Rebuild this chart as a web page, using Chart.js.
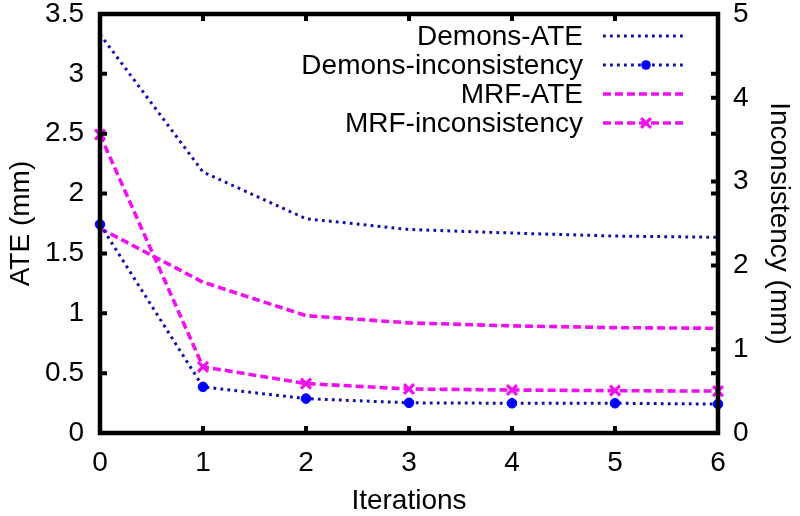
<!DOCTYPE html>
<html>
<head>
<meta charset="utf-8">
<script src="https://cdn.jsdelivr.net/npm/chart.js@4.4.0/dist/chart.umd.min.js"></script>
<style>
html,body{margin:0;padding:0;background:#fff;overflow:hidden;}
#c{display:block;width:800px;height:516px;}
</style>
</head>
<body>
<canvas id="c" width="800" height="516" style="width:800px;height:516px;"></canvas>
<script>
const iterations = ['0','1','2','3','4','5','6'];
const demonsATE = [3.33, 2.18, 1.79, 1.70, 1.67, 1.645, 1.635];
const demonsInconsistency = [2.49, 0.55, 0.41, 0.36, 0.355, 0.355, 0.345];
const mrfATE = [1.71, 1.26, 0.98, 0.92, 0.895, 0.88, 0.875];
const mrfInconsistency = [3.56, 0.79, 0.59, 0.525, 0.513, 0.505, 0.50];
const seriesNames = ['Demons-ATE','Demons-inconsistency','MRF-ATE','MRF-inconsistency'];
const ateTicks = [0,0.5,1,1.5,2,2.5,3,3.5];
const incTicks = [0,1,2,3,4,5];

const FONT = '"Liberation Sans", Arial, Helvetica, sans-serif';
const FS = 28;
const BLUE_DARK = '#1010a8';
const BLUE = '#0000ff';
const MAG = '#f010f0';

const frame = {
  id:'frame',
  afterDatasetsDraw(chart){
    const {ctx, chartArea:a, scales} = chart;
    ctx.save();
    ctx.strokeStyle = '#000';
    ctx.lineWidth = 4;
    const tl = 7;
    ctx.beginPath();
    scales.x.ticks.forEach((t,i)=>{
      if(i===0 || i===scales.x.ticks.length-1) return;
      const px = scales.x.getPixelForTick(i);
      ctx.moveTo(px,a.bottom); ctx.lineTo(px,a.bottom-tl);
      ctx.moveTo(px,a.top); ctx.lineTo(px,a.top+tl);
    });
    ateTicks.forEach(v=>{
      if(v===0||v===3.5) return;
      const py = scales.y.getPixelForValue(v);
      ctx.moveTo(a.left,py); ctx.lineTo(a.left+tl,py);
      ctx.moveTo(a.right,py); ctx.lineTo(a.right-tl,py);
    });
    incTicks.forEach(v=>{
      if(v===0||v===5) return;
      const py = scales.y2.getPixelForValue(v);
      ctx.moveTo(a.right,py); ctx.lineTo(a.right-tl,py);
    });
    ctx.stroke();
    ctx.lineWidth = 4.5;
    ctx.strokeRect(a.left,a.top,a.right-a.left,a.bottom-a.top);
    ctx.restore();
  }
};

const legendPlugin = {
  id:'customLegend',
  afterDatasetsDraw(chart){
    const {ctx} = chart;
    const textRight = 583, x1 = 603, x2 = 683;
    const rows = [36, 65, 94, 123];
    ctx.save();
    ctx.font = FS + 'px ' + FONT;
    ctx.textAlign = 'right';
    ctx.textBaseline = 'middle';
    chart.data.datasets.forEach((ds,i)=>{
      const y = rows[i];
      ctx.fillStyle = '#000';
      ctx.fillText(ds.label, textRight, y+1);
      ctx.strokeStyle = ds.borderColor;
      ctx.lineWidth = ds.borderWidth;
      ctx.setLineDash(ds.borderDash);
      ctx.beginPath(); ctx.moveTo(x1,y); ctx.lineTo(x2,y); ctx.stroke();
      ctx.setLineDash([]);
      if(ds.pointRadius>0){
        const cx = (x1+x2)/2 + 3;
        const r = ds.pointRadius;
        if(ds.pointStyle==='crossRot'){
          ctx.strokeStyle = ds.pointBorderColor; ctx.lineWidth = ds.pointBorderWidth;
          ctx.beginPath();
          ctx.moveTo(cx-r*0.7,y-r*0.7); ctx.lineTo(cx+r*0.7,y+r*0.7);
          ctx.moveTo(cx+r*0.7,y-r*0.7); ctx.lineTo(cx-r*0.7,y+r*0.7);
          ctx.stroke();
        } else {
          ctx.fillStyle = ds.pointBackgroundColor;
          ctx.beginPath(); ctx.arc(cx,y,r,0,Math.PI*2); ctx.fill();
        }
      }
    });
    ctx.restore();
  }
};

function noVPad(s){ s.paddingTop = 0; s.paddingBottom = 0; }

new Chart(document.getElementById('c'), {
  type:'line',
  data:{
    labels: iterations,
    datasets:[
      {label:seriesNames[0], data:demonsATE, yAxisID:'y', borderColor:BLUE_DARK, borderWidth:3, borderDash:[2.8,4.2], pointRadius:0, fill:false, tension:0},
      {label:seriesNames[1], data:demonsInconsistency, yAxisID:'y2', borderColor:BLUE_DARK, borderWidth:3, borderDash:[2.8,4.2], pointRadius:4.8, pointStyle:'circle', pointBackgroundColor:BLUE, pointBorderColor:BLUE, pointBorderWidth:1, fill:false, tension:0},
      {label:seriesNames[2], data:mrfATE, yAxisID:'y', borderColor:MAG, borderWidth:3.6, borderDash:[8,4], pointRadius:0, fill:false, tension:0},
      {label:seriesNames[3], data:mrfInconsistency, yAxisID:'y2', borderColor:MAG, borderWidth:3.6, borderDash:[8,4], pointRadius:7, pointStyle:'crossRot', pointBorderColor:MAG, pointBackgroundColor:MAG, pointBorderWidth:3.2, fill:false, tension:0}
    ]
  },
  options:{
    responsive:false,
    devicePixelRatio:1,
    animation:false,
    clip:false,
    layout:{padding:{top:14,left:0,right:0,bottom:0}},
    plugins:{legend:{display:false}, tooltip:{enabled:false}},
    scales:{
      x:{
        type:'category', offset:false,
        grid:{display:false, drawTicks:false},
        border:{display:false},
        ticks:{color:'#000', font:{family:FONT,size:FS}, padding:13, maxRotation:0, autoSkip:false},
        title:{display:true, text:'Iterations', color:'#000', font:{family:FONT,size:FS}, padding:{top:0,bottom:-2}},
        afterFit(s){ s.height = 83; }
      },
      y:{
        type:'linear', position:'left', min:0, max:3.5,
        afterBuildTicks(s){ s.ticks = ateTicks.map(v=>({value:v})); },
        grid:{display:false, drawTicks:false},
        border:{display:false},
        ticks:{color:'#000', font:{family:FONT,size:FS}, padding:16, callback:v=>String(v)},
        title:{display:true, text:'ATE (mm)', color:'#000', font:{family:FONT,size:FS}, padding:{top:4,bottom:0}},
        afterFit(s){ s.width = 100; noVPad(s); }
      },
      y2:{
        type:'linear', position:'right', min:0, max:5,
        afterBuildTicks(s){ s.ticks = incTicks.map(v=>({value:v})); },
        grid:{display:false, drawTicks:false},
        border:{display:false},
        ticks:{color:'#000', font:{family:FONT,size:FS}, padding:15, callback:v=>String(v)},
        title:{display:true, text:'Inconsistency (mm)', color:'#000', font:{family:FONT,size:FS}, padding:{top:4,bottom:0}},
        afterFit(s){ s.width = 82; noVPad(s); }
      }
    }
  },
  plugins:[frame, legendPlugin]
});
</script>
</body>
</html>
